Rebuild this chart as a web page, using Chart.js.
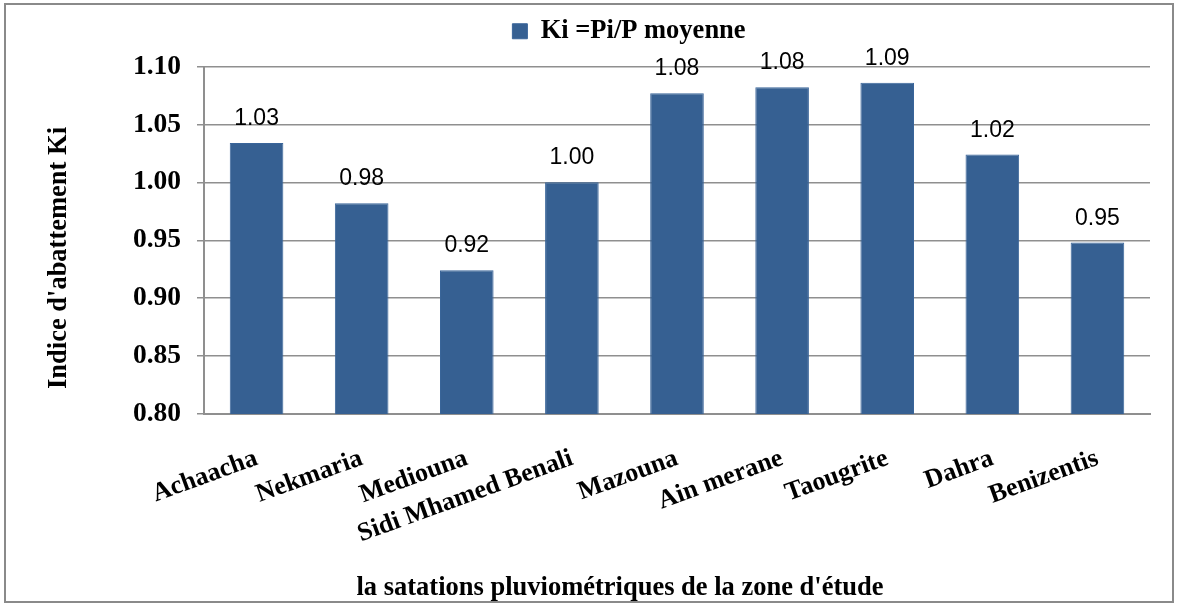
<!DOCTYPE html>
<html>
<head>
<meta charset="utf-8">
<script src="https://cdn.jsdelivr.net/npm/chart.js@4"></script>
<style>
  html, body { margin: 0; padding: 0; background: #fff; }
  #wrap { width: 1178px; height: 607px; position: relative; }
</style>
</head>
<body>
<div id="wrap"><canvas id="kiChart"></canvas></div>
<script>
// stations and Ki values
const stations = ['Achaacha', 'Nekmaria', 'Mediouna', 'Sidi Mhamed Benali', 'Mazouna', 'Ain merane', 'Taougrite', 'Dahra', 'Benizentis'];
const kiValues = [1.034, 0.982, 0.924, 1.000, 1.077, 1.082, 1.086, 1.024, 0.948];
const yTicks = [0.80, 0.85, 0.90, 0.95, 1.00, 1.05, 1.10];

const serif = '"Liberation Serif", "Times New Roman", serif';
const gridGray = '#8f8f8f';

// value labels above each bar
const barLabels = {
  id: 'barLabels',
  afterDatasetsDraw(chart) {
    const ctx = chart.ctx;
    const meta = chart.getDatasetMeta(0);
    ctx.save();
    ctx.font = '23px "Liberation Sans", Arial, sans-serif';
    ctx.fillStyle = '#000';
    ctx.textAlign = 'center';
    ctx.textBaseline = 'alphabetic';
    meta.data.forEach((bar, i) => {
      ctx.fillText(kiValues[i].toFixed(2), bar.x, bar.y - 18);
    });
    ctx.restore();
  }
};

// outer frame + both axis titles (they sit off-centre in the original)
const frame = {
  id: 'frame',
  afterLayout(chart) {
    // legend sits a bit right of centre and close to the top in the original
    chart.legend.left += 54;
    chart.legend.right += 54;
    chart.legend.top -= 12;
    chart.legend.bottom -= 12;
  },
  afterDraw(chart) {
    const ctx = chart.ctx;
    ctx.save();
    ctx.strokeStyle = '#8a8a8a';
    ctx.lineWidth = 2;
    ctx.strokeRect(5, 4, chart.width - 10, chart.height - 9);
    ctx.font = 'bold 26.5px ' + serif;
    ctx.fillStyle = '#000';
    ctx.textAlign = 'center';
    ctx.textBaseline = 'middle';
    ctx.fillText("la satations pluviométriques de la zone d'étude", 620, 588);
    ctx.translate(59, 258);
    ctx.rotate(-Math.PI / 2);
    ctx.fillText("Indice d'abattement Ki", 0, 0);
    ctx.restore();
  }
};

new Chart(document.getElementById('kiChart'), {
  type: 'bar',
  data: {
    labels: stations,
    datasets: [{
      label: 'Ki =Pi/P moyenne',
      data: kiValues,
      backgroundColor: '#366092',
      borderColor: '#3a659a',
      borderWidth: 1,
      barPercentage: 0.51,
      categoryPercentage: 1.0
    }]
  },
  options: {
    responsive: true,
    maintainAspectRatio: false,
    animation: false,
    layout: { padding: { left: 0, right: 28, top: 24, bottom: 3 } },
    plugins: {
      legend: {
        position: 'top',
        labels: {
          boxWidth: 15,
          boxHeight: 15,
          color: '#000',
          padding: 6,
          font: { family: serif, size: 26.5, weight: 'bold' }
        }
      },
      tooltip: { enabled: false }
    },
    scales: {
      x: {
        grid: { display: false },
        border: { display: true, color: gridGray, width: 2 },
        ticks: {
          color: '#000',
          font: { family: serif, size: 26, weight: 'bold' },
          minRotation: 20,
          maxRotation: 20,
          autoSkip: false,
          padding: 21
        },
        afterFit(scale) { scale.height = 190; }
      },
      y: {
        min: 0.8,
        max: 1.1,
        afterBuildTicks(scale) { scale.ticks = yTicks.map(v => ({ value: v })); },
        grid: { color: gridGray, lineWidth: 1.5, tickLength: 7 },
        border: { display: true, color: gridGray, width: 2 },
        ticks: {
          color: '#000',
          font: { family: serif, size: 27.5, weight: 'bold' },
          padding: 16,
          callback: v => v.toFixed(2)
        },
        afterFit(scale) { scale.width = 204; }
      }
    }
  },
  plugins: [barLabels, frame]
});
</script>
</body>
</html>
